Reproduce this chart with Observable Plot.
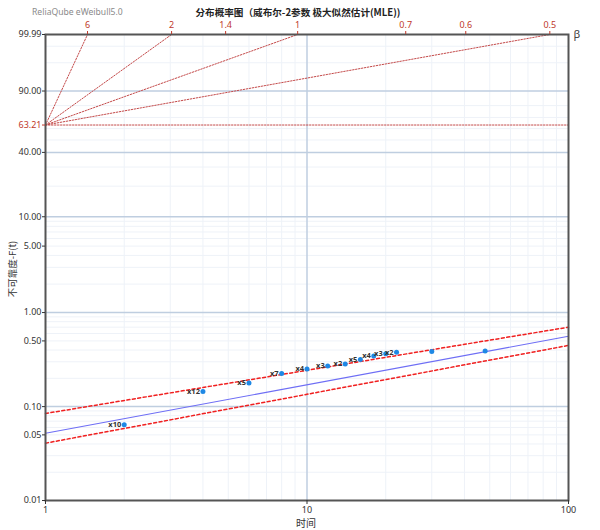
<!DOCTYPE html>
<html><head><meta charset="utf-8">
<script src="https://cdn.jsdelivr.net/npm/d3@7"></script>
<script src="https://cdn.jsdelivr.net/npm/@observablehq/plot@0.6"></script>
<style>
body{margin:0;background:#fff;font-family:"Noto Sans","Noto Sans CJK SC",sans-serif;}
#wrap{position:relative;width:600px;height:530px;}
#brand{position:absolute;left:32px;top:6px;font-size:8.6px;color:#8a8a8a;}
#title{position:absolute;left:0;width:596px;top:5px;text-align:center;font-size:9.6px;font-weight:bold;color:#222;font-family:"Noto Sans CJK SC","Noto Sans",sans-serif;}
#xlab{position:absolute;left:0;width:612px;top:515px;text-align:center;font-size:10px;color:#333;font-family:"Noto Sans CJK SC",sans-serif;}
#ylab{position:absolute;left:-38px;top:262px;width:100px;text-align:center;font-size:9.5px;color:#333;transform:rotate(-90deg);font-family:"Noto Sans CJK SC",sans-serif;}
</style></head>
<body><div id="wrap"><div id="chart"></div>
<div id="brand">ReliaQube eWeibull5.0</div>
<div id="title">分布概率图（威布尔-2参数 极大似然估计(MLE))</div>
<div id="xlab">时间</div>
<div id="ylab">不可靠度-F(t)</div>
</div>
<script>
// failure times and plotted unreliability (%)
const times = [2, 4, 6, 8, 10, 12, 14, 16, 18, 20, 22, 30, 48];
const unrel = [0.064, 0.145, 0.178, 0.225, 0.251, 0.271, 0.285, 0.318, 0.345, 0.365, 0.378, 0.385, 0.391];
const qtyLabels = ["x10", "x12", "x5", "x7", "x4", "x3", "x2", "x5", "x4", "x3", "x2", "", ""];
// fitted line and confidence bounds (end points, %)
const lineT = [1, 100];
const fitF = [0.052, 0.56];
const upperF = [0.0845, 0.70];
const lowerF = [0.0408, 0.448];
// beta indicator
const betaTicks = [6, 2, 1.4, 1, 0.7, 0.6, 0.5];
const betaLines = [6, 2, 1, 0.5];
const refF = 63.21;
// axes / grid
const xTicks = [1, 10, 100];
const xMajor = [10];
const xMinor = [2, 3, 4, 5, 6, 7, 8, 9, 20, 30, 40, 50, 60, 70, 80, 90];
const yTicks = [99.99, 90, 40, 10, 5, 1, 0.5, 0.1, 0.05, 0.01];
const yMajor = [90, 40, 10, 1, 0.1];
const yMinor = [99.9, 99, 80, 70, 60, 50, 30, 20, 9, 8, 7, 6, 5, 4, 3, 2, 0.9, 0.8, 0.7, 0.6, 0.5, 0.4, 0.3, 0.2, 0.09, 0.08, 0.07, 0.06, 0.05, 0.04, 0.03, 0.02];

const wy = F => Math.log(-Math.log(1 - F / 100));
const invF = u => 100 * (1 - Math.exp(-Math.exp(u)));
const uTop = wy(99.99), uBot = wy(0.01);
const pxU = (uTop - uBot) / 466; // one pixel in y units

const pts = times.map((t, i) => ({t, u: wy(unrel[i]), lab: qtyLabels[i]}));
const mk = arr => lineT.map((t, i) => ({t, u: wy(arr[i])}));
const betaSeg = betaLines.flatMap(b => [{b, t: 1, u: 0}, {b, t: Math.exp(uTop / b), u: uTop}]);
const betaPos = betaTicks.map(b => ({b, t: Math.exp(uTop / b)}));
const refSeg = [{t: 1, u: wy(refF)}, {t: 100, u: wy(refF)}];

const chart = Plot.plot({
  width: 600, height: 530,
  marginLeft: 45, marginRight: 32, marginTop: 34, marginBottom: 30,
  x: {type: "log", domain: [1, 100]},
  y: {type: "linear", domain: [uBot, uTop]},
  style: {fontFamily: "'Noto Sans', sans-serif", fontSize: "9px", color: "#333", background: "white"},
  marks: [
    Plot.ruleY(yMinor.map(wy), {stroke: "#eef2f8"}),
    Plot.ruleX(xMinor, {stroke: "#eef2f8"}),
    Plot.ruleY(yMajor.map(wy), {stroke: "#bfcee0", strokeWidth: 1.5}),
    Plot.ruleX(xMajor, {stroke: "#bfcee0", strokeWidth: 1.5}),
    Plot.line(refSeg, {x: "t", y: "u", stroke: "#c44a4a", strokeWidth: 1, strokeDasharray: "1.5,1.5"}),
    Plot.line(betaSeg, {x: "t", y: "u", z: "b", stroke: "#c44a4a", strokeWidth: 1, strokeDasharray: "1.5,1.5"}),
    Plot.line(mk(upperF), {x: "t", y: "u", stroke: "#f02020", strokeWidth: 1.5, strokeDasharray: "3,2.5"}),
    Plot.line(mk(lowerF), {x: "t", y: "u", stroke: "#f02020", strokeWidth: 1.5, strokeDasharray: "3,2.5"}),
    Plot.line(mk(fitF), {x: "t", y: "u", stroke: "#6e6ef5", strokeWidth: 1.2}),
    Plot.dot(pts, {x: "t", y: "u", r: 2.5, fill: "#1e88e5"}),
    Plot.text(pts, {x: "t", y: "u", text: "lab", textAnchor: "end", dx: -3, fontSize: 7.5, fontWeight: "bold", fill: "#333"}),
    Plot.frame({stroke: "#555", strokeWidth: 2}),
    Plot.axisY({ticks: yTicks.map(wy), tickFormat: u => invF(u).toFixed(2), tickSize: 3, tickPadding: 1, label: null}),
    Plot.axisY({ticks: [wy(refF)], tickFormat: () => refF.toFixed(2), tickSize: 3, tickPadding: 1, color: "#c0392b", label: null}),
    Plot.axisX({ticks: xTicks, tickFormat: d => String(d), tickSize: 4, tickPadding: 2, label: null}),
    // beta scale along the top edge
    Plot.ruleX(betaPos, {x: "t", y1: uTop, y2: uTop + 3 * pxU, stroke: "#c0392b"}),
    Plot.text(betaPos, {x: "t", y: uTop, dy: -9, text: d => String(d.b), fill: "#c0392b", fontSize: 9}),
    Plot.text(["β"], {frameAnchor: "top-right", text: d => d, textAnchor: "start", dx: 5, dy: -4, fontSize: 11, fill: "#444"})
  ]
});
document.getElementById("chart").appendChild(chart);
</script>
</body></html>
